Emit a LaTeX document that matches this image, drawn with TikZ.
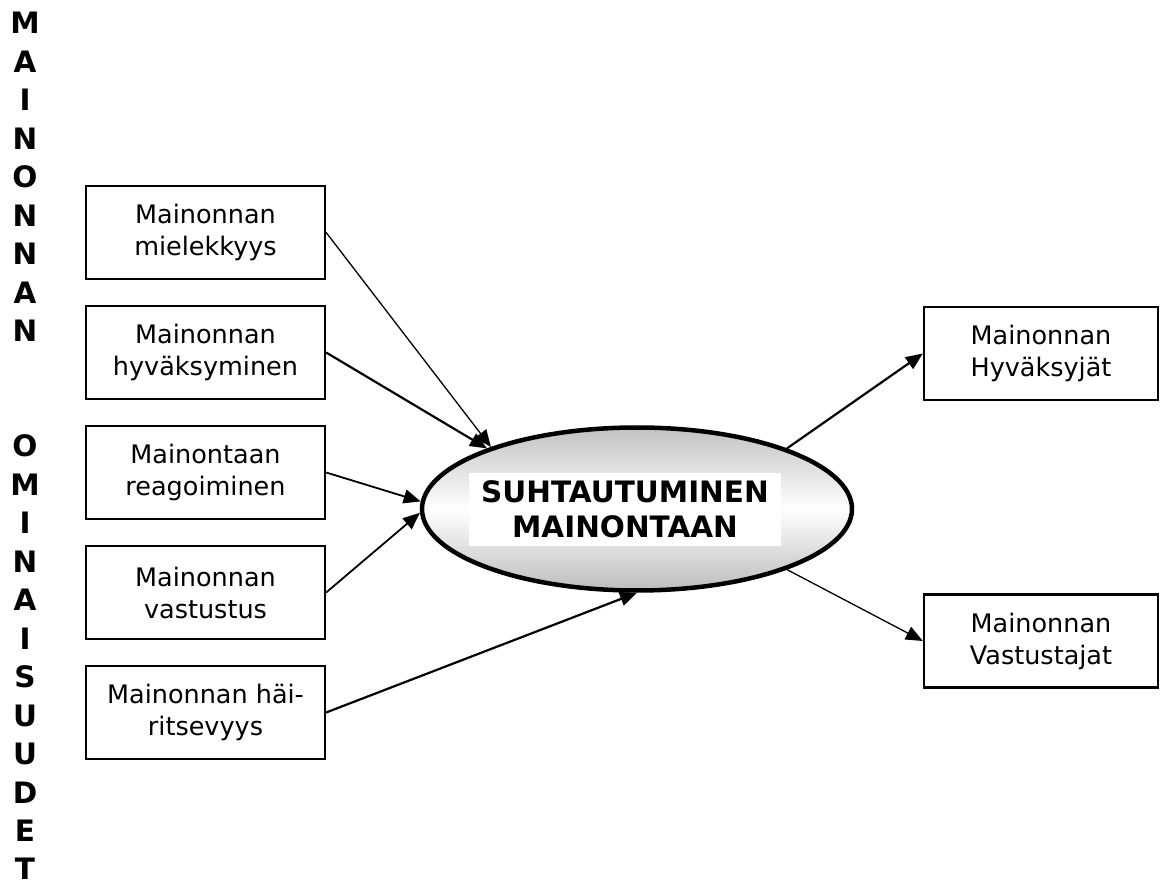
\documentclass[tikz,border=0pt]{standalone}
\usepackage{fontspec}
\setmainfont{DejaVu Sans}
\usetikzlibrary{arrows.meta,shapes.geometric}
\begin{document}
\begin{tikzpicture}[x=1pt,y=-1pt,
  factor/.style={draw, line width=2.3pt, minimum width=239pt, minimum height=93pt,
    align=center, inner sep=0pt, font=\fontsize{25.5}{32}\selectfont},
  group/.style={factor, minimum width=234pt},
  letter/.style={font=\fontsize{29.5}{34}\selectfont\bfseries, anchor=base, inner sep=0pt},
  link/.style={-{Triangle[length=17pt,width=14pt]}, line width=2.2pt},
  thinlink/.style={link, line width=1.3pt}]
\useasboundingbox (0,0) rectangle (1160,890);

% vertical heading on the left
\foreach \ch [count=\i from 0] in {M,A,I,N,O,N,N,A,N}
  \node[letter] (head\i) at (25,{34+\i*38.45}) {\ch};
\foreach \ch [count=\i from 11] in {O,M,I,N,A,I,S,U,U,D,E,T}
  \node[letter] (head\i) at (25,{34+\i*38.45}) {\ch};

% factor boxes
\node[factor] (f1) at (205.5,232.5) {Mainonnan\\mielekkyys};
\node[factor] (f2) at (205.5,352.5) {Mainonnan\\hyväksyminen};
\node[factor] (f3) at (205.5,472.5) {Mainontaan\\reagoiminen};
\node[factor] (f4) at (205.5,592.5) {Mainonnan\\vastustus};
\node[factor] (f5) at (205.5,712.5) {Mainonnan häi-\\ritsevyys};

% central ellipse
\node[ellipse, draw, line width=4.5pt, minimum width=430pt, minimum height=163pt,
  top color=black!24, bottom color=black!26, middle color=white] (att) at (637,509) {};
\node[fill=white, minimum width=312pt, minimum height=73pt, inner sep=0pt, align=center,
  font=\fontsize{29.5}{35}\selectfont\bfseries] (attlabel) at (625,509.5)
  {SUHTAUTUMINEN\\MAINONTAAN};

% outcome boxes
\node[group] (g1) at (1041,353.5) {Mainonnan\\Hyväksyjät};
\node[group] (g2) at (1041,641) {Mainonnan\\Vastustajat};

% connectors
\draw[thinlink] (f1.east) -- (att.157);
\draw[link] (f2.east) -- (att.158.5);
\draw[link, line width=1.8pt] (f3.east) -- (att.178.5);
\draw[link, line width=1.8pt] (f4.east) -- (att.181.5);
\draw[link] (f5.east) -- (att.270);
\draw[link] (att.22) -- (g1.west);
\draw[thinlink] (att.338) -- (g2.west);
\end{tikzpicture}
\end{document}
